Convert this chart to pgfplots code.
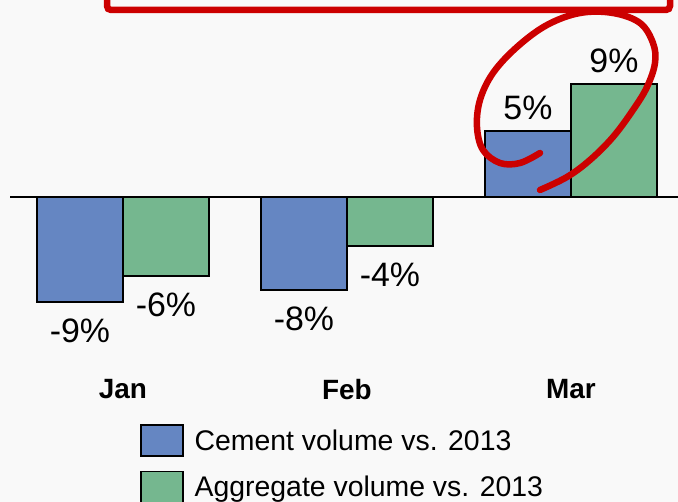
\documentclass[border=0pt]{standalone}
\usepackage{pgfplots}
\pgfplotsset{compat=1.18}
\usepackage{fontspec}
\setmainfont{Liberation Sans}
\definecolor{bgc}{HTML}{F9F9F9}
\definecolor{cblue}{HTML}{6586C2}
\definecolor{cgreen}{HTML}{75B78F}
\definecolor{cred}{HTML}{CC0000}
\begin{document}
\begin{tikzpicture}
\fill[bgc] (0,0) rectangle (678bp,502bp);
\clip (0,0) rectangle (678bp,502bp);
\begin{axis}[
  at={(10bp,130bp)}, anchor=south west,
  width=668bp, height=372bp, scale only axis,
  xmin=-0.504, xmax=2.478, ymin=-14.29, ymax=16.08,
  axis line style={draw=none}, tick style={draw=none}, ytick=\empty,
  xtick={0,1,2}, xticklabels={Jan,Feb,Mar},
  xticklabel style={font=\fontsize{28}{34}\selectfont\bfseries},
  ybar=0pt, bar width=86bp,
  clip=false,
  nodes near coords={\pgfmathprintnumber[fixed,precision=0,assume math mode=true]{\pgfplotspointmeta}\%},
  every node near coord/.append style={font=\fontsize{34}{40}\selectfont, text height=29.5bp, inner ysep=10.5bp},
  legend image code/.code={\draw[#1,line width=1.5bp] (0bp,-15bp) rectangle (42bp,16bp);},
  legend style={draw=none, fill=none, inner sep=0pt, at={(rel axis cs:0.1946,-0.1398)}, anchor=north west,
    font=\fontsize{28.5}{34}\selectfont, nodes={inner xsep=0pt, inner ysep=0pt}, row sep=14bp, column sep=11bp},
  legend cell align=left,
]
\addplot[fill=cblue, draw=black, line width=1.5bp] coordinates {(0,-8.57) (1,-7.59) (2,5.39)};
\addplot[fill=cgreen, draw=black, line width=1.5bp] coordinates {(0,-6.45) (1,-4.0) (2,9.22)};
\legend{Cement volume vs. 2013, Aggregate volume vs. 2013}
\draw[black, line width=1.5bp] (axis cs:-0.504,0) -- (axis cs:2.478,0);
\end{axis}
\begin{scope}[x=1bp, y=-1bp, shift={(0bp,502bp)}]
\draw[cred, line width=6.5bp, rounded corners=4bp] (107,-20) rectangle (670,10);
\draw[cred, line width=6.5bp, line cap=round] plot[smooth, tension=0.6] coordinates {(540,153) (520,163) (500,163) (483,150) (477,127) (480,100) (493,73) (517,47) (547,25) (580,13) (613,13) (640,23) (653,43) (655,63) (647,87) (633,110) (613,137) (590,160) (567,177) (540,190)};
\end{scope}
\end{tikzpicture}
\end{document}
